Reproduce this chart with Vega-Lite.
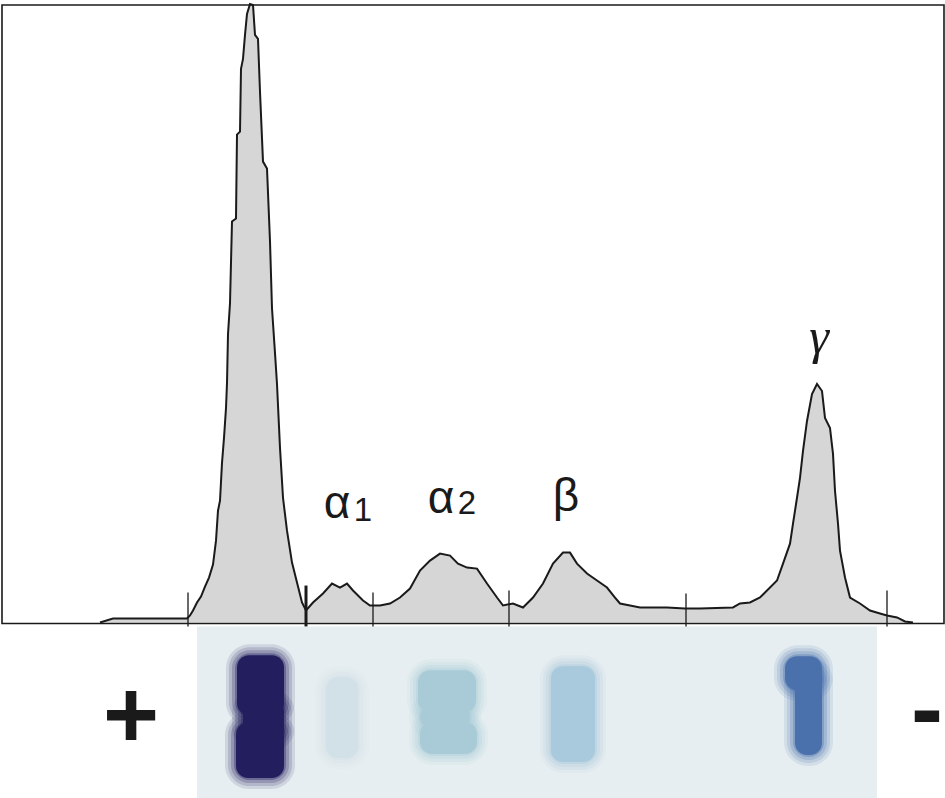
{
  "$schema": "https://vega.github.io/schema/vega-lite/v6.json",
  "width": 945,
  "height": 798,
  "padding": 0,
  "autosize": {"type": "fit", "contains": "padding"},
  "background": "white",
  "config": {"view": {"stroke": null}},
  "datasets": {
    "trace": [
      {"pos": 100, "od": 0}, {"pos": 113, "od": 4}, {"pos": 187, "od": 4}, {"pos": 190, "od": 7},
      {"pos": 193, "od": 12}, {"pos": 197, "od": 20}, {"pos": 201, "od": 26}, {"pos": 205, "od": 36},
      {"pos": 209, "od": 45}, {"pos": 213, "od": 58}, {"pos": 216, "od": 82}, {"pos": 218, "od": 112},
      {"pos": 220, "od": 122}, {"pos": 222, "od": 160}, {"pos": 224, "od": 185}, {"pos": 226, "od": 215},
      {"pos": 227, "od": 240}, {"pos": 228, "od": 289}, {"pos": 230, "od": 320}, {"pos": 232, "od": 402},
      {"pos": 236, "od": 405}, {"pos": 237, "od": 489}, {"pos": 240, "od": 492}, {"pos": 241, "od": 555},
      {"pos": 243, "od": 565}, {"pos": 245, "od": 589}, {"pos": 247, "od": 610}, {"pos": 250, "od": 620},
      {"pos": 253, "od": 619}, {"pos": 255, "od": 589}, {"pos": 258, "od": 585}, {"pos": 260, "od": 532},
      {"pos": 263, "od": 462}, {"pos": 267, "od": 455}, {"pos": 270, "od": 382}, {"pos": 272, "od": 315},
      {"pos": 275, "od": 270}, {"pos": 277, "od": 239}, {"pos": 280, "od": 175}, {"pos": 283, "od": 125},
      {"pos": 287, "od": 92}, {"pos": 292, "od": 60}, {"pos": 297, "od": 40}, {"pos": 302, "od": 20},
      {"pos": 306, "od": 12}, {"pos": 313, "od": 20}, {"pos": 323, "od": 29}, {"pos": 332, "od": 39},
      {"pos": 340, "od": 35}, {"pos": 347, "od": 39}, {"pos": 353, "od": 32}, {"pos": 363, "od": 22},
      {"pos": 370, "od": 17}, {"pos": 380, "od": 17}, {"pos": 390, "od": 19}, {"pos": 400, "od": 25},
      {"pos": 410, "od": 34}, {"pos": 420, "od": 52}, {"pos": 430, "od": 62}, {"pos": 440, "od": 69},
      {"pos": 450, "od": 67}, {"pos": 458, "od": 59}, {"pos": 467, "od": 55}, {"pos": 477, "od": 54},
      {"pos": 487, "od": 39}, {"pos": 497, "od": 25}, {"pos": 503, "od": 17}, {"pos": 513, "od": 19},
      {"pos": 523, "od": 15}, {"pos": 533, "od": 25}, {"pos": 543, "od": 39}, {"pos": 553, "od": 59},
      {"pos": 563, "od": 70}, {"pos": 570, "od": 70}, {"pos": 577, "od": 59}, {"pos": 587, "od": 49},
      {"pos": 597, "od": 42}, {"pos": 607, "od": 35}, {"pos": 615, "od": 25}, {"pos": 620, "od": 19},
      {"pos": 630, "od": 17}, {"pos": 640, "od": 15}, {"pos": 667, "od": 15}, {"pos": 685, "od": 14},
      {"pos": 700, "od": 14}, {"pos": 733, "od": 15}, {"pos": 740, "od": 19}, {"pos": 750, "od": 20},
      {"pos": 760, "od": 25}, {"pos": 767, "od": 32}, {"pos": 777, "od": 42}, {"pos": 783, "od": 59},
      {"pos": 790, "od": 79}, {"pos": 793, "od": 99}, {"pos": 797, "od": 125}, {"pos": 800, "od": 145},
      {"pos": 803, "od": 172}, {"pos": 807, "od": 202}, {"pos": 812, "od": 229}, {"pos": 817, "od": 239},
      {"pos": 822, "od": 232}, {"pos": 825, "od": 205}, {"pos": 830, "od": 195}, {"pos": 833, "od": 169},
      {"pos": 835, "od": 132}, {"pos": 838, "od": 99}, {"pos": 840, "od": 72}, {"pos": 845, "od": 45},
      {"pos": 850, "od": 25}, {"pos": 860, "od": 19}, {"pos": 870, "od": 12}, {"pos": 880, "od": 9},
      {"pos": 887, "od": 7}, {"pos": 897, "od": 5}, {"pos": 905, "od": 1}, {"pos": 913, "od": 0}
    ],
    "dividers": [
      {"pos": 188, "top": 30, "w": "thin"}, {"pos": 306, "top": 37, "w": "thick"},
      {"pos": 373, "top": 30, "w": "thin"}, {"pos": 509, "top": 32, "w": "thin"},
      {"pos": 686, "top": 29, "w": "thin"}, {"pos": 887, "top": 32, "w": "thin"}
    ],
    "bands": [
      {"band": "albumin", "x1": 237, "x2": 284, "top": -33, "bottom": -93},
      {"band": "albumin", "x1": 236, "x2": 284, "top": -100, "bottom": -156},
      {"band": "albumin", "x1": 243, "x2": 284, "top": -78, "bottom": -118},
      {"band": "alpha1", "x1": 326, "x2": 358, "top": -55, "bottom": -136},
      {"band": "alpha2", "x1": 418, "x2": 476, "top": -48, "bottom": -90},
      {"band": "alpha2", "x1": 420, "x2": 477, "top": -100, "bottom": -132},
      {"band": "alpha2", "x1": 420, "x2": 470, "top": -83, "bottom": -106},
      {"band": "beta", "x1": 551, "x2": 595, "top": -44, "bottom": -140},
      {"band": "gamma", "x1": 785, "x2": 822, "top": -34, "bottom": -68},
      {"band": "gamma", "x1": 795, "x2": 822, "top": -46, "bottom": -133}
    ]
  },
  "encoding": {
    "x": {"type": "quantitative", "scale": {"domain": [0, 945], "nice": false, "zero": false}, "axis": null},
    "y": {"type": "quantitative", "scale": {"domain": [-176, 622], "nice": false, "zero": false}, "axis": null}
  },
  "layer": [
    {
      "data": {"values": [{"x1": 197, "x2": 877, "top": -4, "bottom": -176}]},
      "mark": {"type": "rect", "color": "#e6eef1"},
      "encoding": {"x": {"field": "x1", "type": "quantitative"}, "x2": {"field": "x2"}, "y": {"field": "top", "type": "quantitative"}, "y2": {"field": "bottom"}}
    },
    {
      "data": {"name": "bands"},
      "mark": {"type": "rect", "opacity": 0.12, "cornerRadius": 24, "xOffset": -11, "x2Offset": 11, "yOffset": -11, "y2Offset": 11},
      "encoding": {
        "x": {"field": "x1", "type": "quantitative"}, "x2": {"field": "x2"},
        "y": {"field": "top", "type": "quantitative"}, "y2": {"field": "bottom"},
        "color": {"field": "band", "type": "nominal", "legend": null, "scale": {"domain": ["albumin", "alpha1", "alpha2", "beta", "gamma"], "range": ["#231f5f", "#d2e1e7", "#a9cbd7", "#a9c9dc", "#4a71ac"]}}
      }
    },
    {
      "data": {"name": "bands"},
      "mark": {"type": "rect", "opacity": 0.16, "cornerRadius": 21, "xOffset": -8, "x2Offset": 8, "yOffset": -8, "y2Offset": 8},
      "encoding": {
        "x": {"field": "x1", "type": "quantitative"}, "x2": {"field": "x2"},
        "y": {"field": "top", "type": "quantitative"}, "y2": {"field": "bottom"},
        "color": {"field": "band", "type": "nominal", "legend": null, "scale": {"domain": ["albumin", "alpha1", "alpha2", "beta", "gamma"], "range": ["#231f5f", "#d2e1e7", "#a9cbd7", "#a9c9dc", "#4a71ac"]}}
      }
    },
    {
      "data": {"name": "bands"},
      "mark": {"type": "rect", "opacity": 0.22, "cornerRadius": 18, "xOffset": -5, "x2Offset": 5, "yOffset": -5, "y2Offset": 5},
      "encoding": {
        "x": {"field": "x1", "type": "quantitative"}, "x2": {"field": "x2"},
        "y": {"field": "top", "type": "quantitative"}, "y2": {"field": "bottom"},
        "color": {"field": "band", "type": "nominal", "legend": null, "scale": {"domain": ["albumin", "alpha1", "alpha2", "beta", "gamma"], "range": ["#231f5f", "#d2e1e7", "#a9cbd7", "#a9c9dc", "#4a71ac"]}}
      }
    },
    {
      "data": {"name": "bands"},
      "mark": {"type": "rect", "opacity": 0.35, "cornerRadius": 15, "xOffset": -2, "x2Offset": 2, "yOffset": -2, "y2Offset": 2},
      "encoding": {
        "x": {"field": "x1", "type": "quantitative"}, "x2": {"field": "x2"},
        "y": {"field": "top", "type": "quantitative"}, "y2": {"field": "bottom"},
        "color": {"field": "band", "type": "nominal", "legend": null, "scale": {"domain": ["albumin", "alpha1", "alpha2", "beta", "gamma"], "range": ["#231f5f", "#d2e1e7", "#a9cbd7", "#a9c9dc", "#4a71ac"]}}
      }
    },
    {
      "data": {"name": "bands"},
      "mark": {"type": "rect", "opacity": 1, "cornerRadius": 12},
      "encoding": {
        "x": {"field": "x1", "type": "quantitative"}, "x2": {"field": "x2"},
        "y": {"field": "top", "type": "quantitative"}, "y2": {"field": "bottom"},
        "color": {"field": "band", "type": "nominal", "legend": null, "scale": {"domain": ["albumin", "alpha1", "alpha2", "beta", "gamma"], "range": ["#231f5f", "#d2e1e7", "#a9cbd7", "#a9c9dc", "#4a71ac"]}}
      }
    },
    {
      "data": {"name": "trace"},
      "mark": {"type": "area", "color": "#d6d6d6", "opacity": 1, "line": {"color": "#1a1a1a", "strokeWidth": 2}},
      "encoding": {"x": {"field": "pos", "type": "quantitative"}, "y": {"field": "od", "type": "quantitative"}}
    },
    {
      "data": {"name": "dividers"},
      "mark": {"type": "rule", "color": "#1a1a1a"},
      "encoding": {
        "x": {"field": "pos", "type": "quantitative"},
        "y": {"field": "top", "type": "quantitative"},
        "y2": {"datum": -4},
        "strokeWidth": {"field": "w", "type": "nominal", "legend": null, "scale": {"domain": ["thin", "thick"], "range": [1.3, 3]}}
      }
    },
    {
      "data": {"values": [{"x1": 2, "x2": 944, "top": 619, "bottom": -1}]},
      "mark": {"type": "rect", "filled": false, "stroke": "#1a1a1a", "strokeWidth": 1.6},
      "encoding": {"x": {"field": "x1", "type": "quantitative"}, "x2": {"field": "x2"}, "y": {"field": "top", "type": "quantitative"}, "y2": {"field": "bottom"}}
    },
    {
      "data": {"values": [{"t": "α", "pos": 337, "h": 105}, {"t": "α", "pos": 441, "h": 110}, {"t": "β", "pos": 566, "h": 112}]},
      "mark": {"type": "text", "font": "Liberation Sans", "fontSize": 46, "align": "center", "baseline": "alphabetic", "color": "#1a1a1a"},
      "encoding": {"x": {"field": "pos", "type": "quantitative"}, "y": {"field": "h", "type": "quantitative"}, "text": {"field": "t"}}
    },
    {
      "data": {"values": [{"t": "1", "pos": 363, "h": 102}, {"t": "2", "pos": 467, "h": 109}]},
      "mark": {"type": "text", "font": "Liberation Sans", "fontSize": 33, "align": "center", "baseline": "alphabetic", "color": "#1a1a1a"},
      "encoding": {"x": {"field": "pos", "type": "quantitative"}, "y": {"field": "h", "type": "quantitative"}, "text": {"field": "t"}}
    },
    {
      "data": {"values": [{"t": "γ", "pos": 819, "h": 270}]},
      "mark": {"type": "text", "font": "Liberation Serif", "fontSize": 50, "fontStyle": "italic", "align": "center", "baseline": "alphabetic", "color": "#1a1a1a"},
      "encoding": {"x": {"field": "pos", "type": "quantitative"}, "y": {"field": "h", "type": "quantitative"}, "text": {"field": "t"}}
    },
    {
      "data": {"values": [{"t": "+", "pos": 131, "h": -126}]},
      "mark": {"type": "text", "font": "Liberation Sans", "fontSize": 96, "fontWeight": "bold", "align": "center", "baseline": "alphabetic", "color": "#1a1a1a"},
      "encoding": {"x": {"field": "pos", "type": "quantitative"}, "y": {"field": "h", "type": "quantitative"}, "text": {"field": "t"}}
    },
    {
      "data": {"values": [{"t": "-", "pos": 911, "h": -119}]},
      "mark": {"type": "text", "font": "Liberation Sans", "fontSize": 96, "fontWeight": "bold", "align": "left", "baseline": "alphabetic", "color": "#1a1a1a"},
      "encoding": {"x": {"field": "pos", "type": "quantitative"}, "y": {"field": "h", "type": "quantitative"}, "text": {"field": "t"}}
    }
  ]
}
